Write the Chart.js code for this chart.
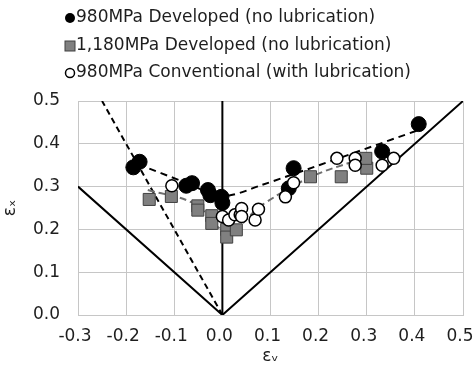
<!DOCTYPE html>
<html>
<head>
<meta charset="utf-8">
<script src="https://cdn.jsdelivr.net/npm/chart.js@4"></script>
<style>
html,body{margin:0;padding:0;background:#fff;}
#wrap{width:475px;height:367px;position:relative;}
</style>
</head>
<body>
<div id="wrap"><canvas id="c" width="475" height="367"></canvas></div>
<script>
// ---- data ----
const seriesNames = ['980MPa Developed (no lubrication)', '1,180MPa Developed (no lubrication)', '980MPa Conventional (with lubrication)'];

const dev980Ey = [-0.185, -0.172, -0.075, -0.063, -0.030, -0.025, -0.002, 0.000, 0.138, 0.148, 0.332, 0.408];
const dev980Ex = [0.345, 0.358, 0.302, 0.308, 0.292, 0.280, 0.276, 0.262, 0.296, 0.343, 0.382, 0.446];

const dev1180Ey = [-0.152, -0.106, -0.051, -0.051, -0.022, -0.022, 0.009, 0.009, 0.029, 0.183, 0.247, 0.300, 0.298];
const dev1180Ex = [0.270, 0.277, 0.255, 0.245, 0.232, 0.214, 0.200, 0.182, 0.199, 0.323, 0.323, 0.343, 0.366];

const conv980Ey = [-0.105, 0.000, 0.013, 0.026, 0.037, 0.040, 0.040, 0.068, 0.075, 0.131, 0.148, 0.238, 0.276, 0.276, 0.332, 0.356];
const conv980Ex = [0.302, 0.230, 0.222, 0.234, 0.234, 0.249, 0.230, 0.222, 0.247, 0.276, 0.309, 0.366, 0.366, 0.350, 0.350, 0.366];

// trend lines (dashed)
const trendDevEy = [-0.175, -0.080, 0.000, 0.080, 0.420];
const trendDevEx = [0.352, 0.311, 0.278, 0.303, 0.437];
const trendGreyEy = [-0.155, -0.060, 0.010, 0.085, 0.183, 0.280];
const trendGreyEx = [0.292, 0.261, 0.197, 0.259, 0.322, 0.362];

// reference lines
const vLineEy = [-0.3, 0.0, 0.5];          // |ey| boundary (solid)
const vLineEx = [0.3, 0.0, 0.5];
const axisLineEy = [0.0, 0.0];              // vertical line at ey = 0
const axisLineEx = [0.0, 0.5];
const uniaxEy = [0.0, -0.25];               // ex = -2 ey (dashed)
const uniaxEx = [0.0, 0.5];

// axis ticks
const xTicks = [-0.3, -0.2, -0.1, 0.0, 0.1, 0.2, 0.3, 0.4, 0.5];
const yTicks = [0.0, 0.1, 0.2, 0.3, 0.4, 0.5];

const pts = (xs, ys) => xs.map((x, i) => ({x: x, y: ys[i]}));

const FONT = 'DejaVu Sans';
const FS = 17;
const TXT = '#1e1e1e';

const legendPlugin = {
  id: 'customLegend',
  afterDraw(chart) {
    const ctx = chart.ctx;
    ctx.save();
    ctx.font = FS + 'px "' + FONT + '"';
    ctx.textBaseline = 'middle';
    const rows = [18, 46, 73];
    const mx = 70, tx = 76;
    // marker 1: black circle
    ctx.beginPath(); ctx.arc(mx, rows[0], 5, 0, Math.PI * 2);
    ctx.fillStyle = '#000'; ctx.fill();
    // marker 2: grey square
    ctx.fillStyle = '#808080'; ctx.strokeStyle = '#404040'; ctx.lineWidth = 1;
    ctx.fillRect(mx - 5, rows[1] - 5, 10, 10); ctx.strokeRect(mx - 5, rows[1] - 5, 10, 10);
    // marker 3: white circle
    ctx.beginPath(); ctx.arc(mx, rows[2], 4.5, 0, Math.PI * 2);
    ctx.fillStyle = '#fff'; ctx.fill(); ctx.strokeStyle = '#000'; ctx.lineWidth = 1.5; ctx.stroke();
    ctx.fillStyle = TXT;
    seriesNames.forEach((n, i) => ctx.fillText(n, tx, rows[i]));
    ctx.restore();
  }
};

new Chart(document.getElementById('c'), {
  type: 'scatter',
  data: {
    datasets: [
      { label: seriesNames[2], data: pts(conv980Ey, conv980Ex), order: 1,
        pointStyle: 'circle', pointRadius: 6, backgroundColor: '#ffffff', borderColor: '#000000', borderWidth: 1.5 },
      { label: seriesNames[1], data: pts(dev1180Ey, dev1180Ex), order: 2,
        pointStyle: 'rect', pointRadius: 8.5, backgroundColor: '#808080', borderColor: '#404040', borderWidth: 1 },
      { label: seriesNames[0], data: pts(dev980Ey, dev980Ex), order: 3,
        pointStyle: 'circle', pointRadius: 7.5, backgroundColor: '#000000', borderColor: '#000000', borderWidth: 1 },
      { label: 'trendDev', data: pts(trendDevEy, trendDevEx), order: 4, showLine: true, pointRadius: 0,
        borderColor: '#000000', borderWidth: 2, borderDash: [7, 5], tension: 0.3 },
      { label: 'trendGrey', data: pts(trendGreyEy, trendGreyEx), order: 4, showLine: true, pointRadius: 0,
        borderColor: '#6e6e6e', borderWidth: 2, borderDash: [7, 4], tension: 0.4 },
      { label: 'vline', data: pts(vLineEy, vLineEx), order: 5, showLine: true, pointRadius: 0,
        borderColor: '#000000', borderWidth: 2 },
      { label: 'axis0', data: pts(axisLineEy, axisLineEx), order: 5, showLine: true, pointRadius: 0,
        borderColor: '#000000', borderWidth: 2 },
      { label: 'uniax', data: pts(uniaxEy, uniaxEx), order: 5, showLine: true, pointRadius: 0,
        borderColor: '#000000', borderWidth: 2, borderDash: [6, 4] }
    ]
  },
  options: {
    responsive: false,
    animation: false,
    layout: { padding: { top: 101, right: 12, left: 0, bottom: 0 } },
    plugins: { legend: { display: false }, tooltip: { enabled: false } },
    scales: {
      x: {
        type: 'linear', min: -0.3, max: 0.5,
        afterBuildTicks: s => { s.ticks = xTicks.map(v => ({value: v})); },
        afterFit: s => { s.height = 52; s.paddingRight = 0; s.paddingLeft = 0; },
        grid: { color: '#c6c6c6', lineWidth: 1, drawTicks: false },
        border: { color: '#c6c6c6' },
        ticks: { padding: 11, labelOffset: -3, color: TXT, font: { family: FONT, size: FS }, callback: v => v.toFixed(1) },
        title: { display: true, text: 'εᵥ', color: TXT, font: { family: FONT, size: FS }, padding: { top: 0, bottom: 0 } }
      },
      y: {
        type: 'linear', min: 0, max: 0.5,
        afterBuildTicks: s => { s.ticks = yTicks.map(v => ({value: v})); },
        afterFit: s => { s.width = 78; s.paddingTop = 0; s.paddingBottom = 0; },
        grid: { color: '#c6c6c6', lineWidth: 1, drawTicks: false },
        border: { color: '#c6c6c6' },
        ticks: { padding: 18, color: TXT, font: { family: FONT, size: FS }, callback: v => v.toFixed(1) },
        title: { display: true, text: 'εₓ', color: TXT, font: { family: FONT, size: FS }, padding: { top: 0, bottom: 0 } }
      }
    }
  },
  plugins: [legendPlugin]
});
</script>
</body>
</html>
